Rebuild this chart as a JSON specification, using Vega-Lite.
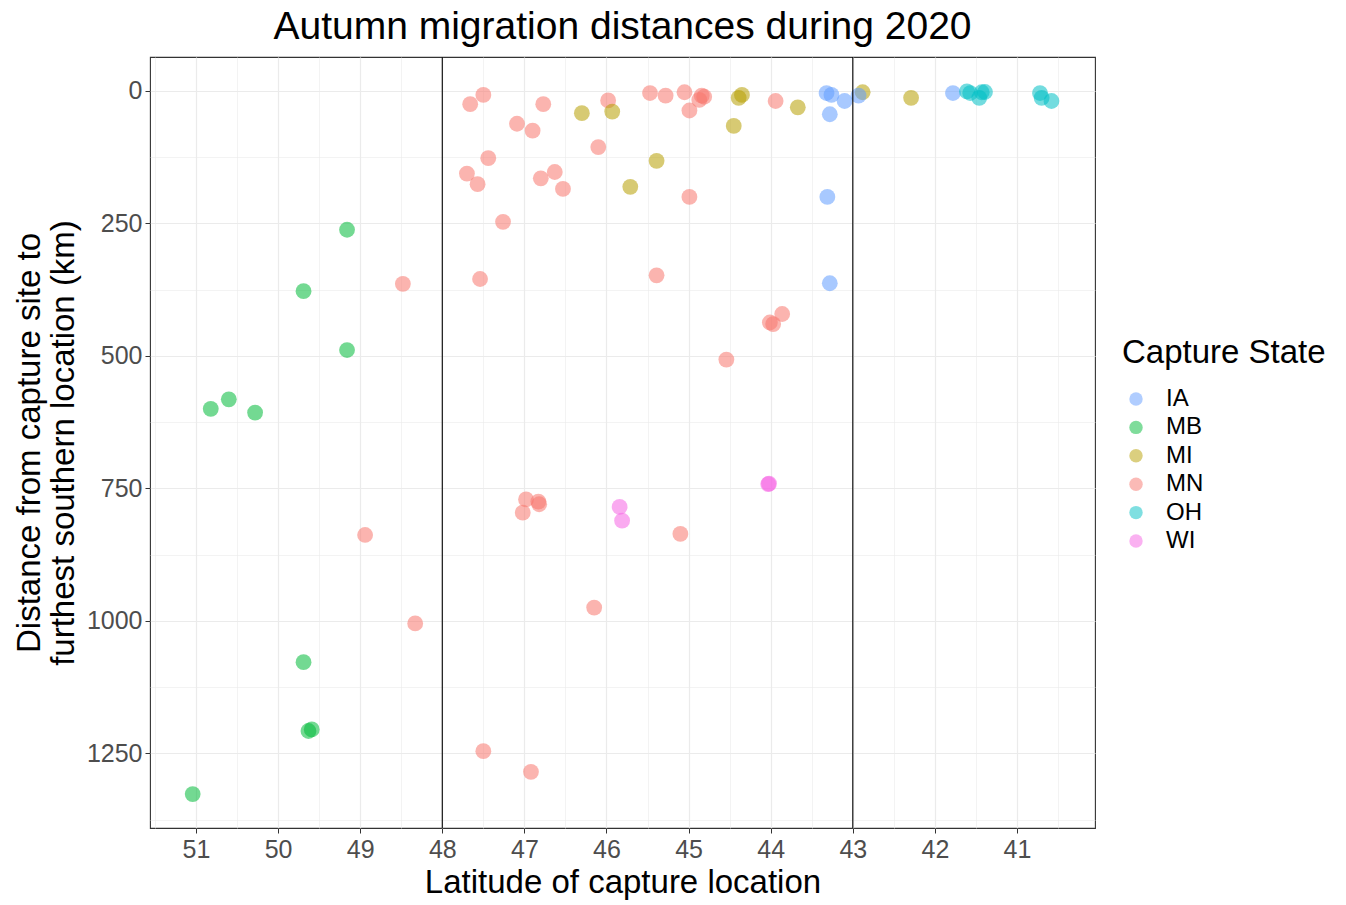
{
  "$schema": "https://vega.github.io/schema/vega-lite/v6.json",
  "width": 945,
  "height": 771,
  "autosize": {"type": "none"},
  "padding": {"left": 150, "top": 57, "right": 251, "bottom": 77},
  "background": "white",
  "title": {
    "text": "Autumn migration distances during 2020",
    "font": "Liberation Sans",
    "fontSize": 39,
    "fontWeight": "normal",
    "color": "black",
    "anchor": "middle",
    "frame": "group",
    "baseline": "alphabetic",
    "offset": 16,
    "dy": 38
  },
  "config": {
    "view": {"stroke": "#333333", "strokeWidth": 1.1},
    "font": "Liberation Sans",
    "axis": {
      "domain": false,
      "labelFont": "Liberation Sans",
      "titleFont": "Liberation Sans",
      "labelColor": "#4D4D4D",
      "labelFontSize": 25,
      "titleFontSize": 33,
      "titleFontWeight": "normal",
      "titleColor": "black",
      "tickColor": "#333333",
      "tickSize": 5,
      "gridColor": "#EBEBEB"
    },
    "legend": {
      "labelFont": "Liberation Sans",
      "titleFont": "Liberation Sans"
    }
  },
  "datasets": {
    "points": [
      {"lat": 47.66, "dist": 25, "state": "MN"},
      {"lat": 47.50, "dist": 7.6, "state": "MN"},
      {"lat": 46.77, "dist": 25, "state": "MN"},
      {"lat": 47.09, "dist": 62, "state": "MN"},
      {"lat": 46.90, "dist": 75, "state": "MN"},
      {"lat": 45.98, "dist": 18, "state": "MN"},
      {"lat": 45.47, "dist": 4, "state": "MN"},
      {"lat": 45.28, "dist": 9, "state": "MN"},
      {"lat": 45.05, "dist": 2.5, "state": "MN"},
      {"lat": 44.84, "dist": 9, "state": "MN"},
      {"lat": 44.87, "dist": 17, "state": "MN"},
      {"lat": 44.81, "dist": 11, "state": "MN"},
      {"lat": 44.99, "dist": 37, "state": "MN"},
      {"lat": 43.94, "dist": 19, "state": "MN"},
      {"lat": 46.10, "dist": 106, "state": "MN"},
      {"lat": 47.44, "dist": 127, "state": "MN"},
      {"lat": 47.70, "dist": 156, "state": "MN"},
      {"lat": 47.57, "dist": 176, "state": "MN"},
      {"lat": 46.80, "dist": 165, "state": "MN"},
      {"lat": 46.63, "dist": 153, "state": "MN"},
      {"lat": 46.53, "dist": 185, "state": "MN"},
      {"lat": 44.99, "dist": 200, "state": "MN"},
      {"lat": 47.26, "dist": 247, "state": "MN"},
      {"lat": 47.54, "dist": 355, "state": "MN"},
      {"lat": 45.39, "dist": 348, "state": "MN"},
      {"lat": 48.48, "dist": 364, "state": "MN"},
      {"lat": 43.86, "dist": 421, "state": "MN"},
      {"lat": 44.01, "dist": 437, "state": "MN"},
      {"lat": 43.97, "dist": 440, "state": "MN"},
      {"lat": 44.54, "dist": 507, "state": "MN"},
      {"lat": 46.98, "dist": 771, "state": "MN"},
      {"lat": 46.83, "dist": 775, "state": "MN"},
      {"lat": 46.82, "dist": 780, "state": "MN"},
      {"lat": 47.02, "dist": 796, "state": "MN"},
      {"lat": 45.10, "dist": 836, "state": "MN"},
      {"lat": 48.94, "dist": 838, "state": "MN"},
      {"lat": 46.15, "dist": 975, "state": "MN"},
      {"lat": 48.33, "dist": 1005, "state": "MN"},
      {"lat": 47.50, "dist": 1246, "state": "MN"},
      {"lat": 46.92, "dist": 1285, "state": "MN"},
      {"lat": 46.30, "dist": 42, "state": "MI"},
      {"lat": 45.93, "dist": 39, "state": "MI"},
      {"lat": 44.39, "dist": 13, "state": "MI"},
      {"lat": 44.35, "dist": 7.5, "state": "MI"},
      {"lat": 43.67, "dist": 31, "state": "MI"},
      {"lat": 44.45, "dist": 66, "state": "MI"},
      {"lat": 45.39, "dist": 132, "state": "MI"},
      {"lat": 45.71, "dist": 181, "state": "MI"},
      {"lat": 42.88, "dist": 2.5, "state": "MI"},
      {"lat": 42.29, "dist": 13, "state": "MI"},
      {"lat": 43.32, "dist": 4, "state": "IA"},
      {"lat": 43.26, "dist": 7.5, "state": "IA"},
      {"lat": 43.10, "dist": 19, "state": "IA"},
      {"lat": 43.28, "dist": 44, "state": "IA"},
      {"lat": 43.31, "dist": 200, "state": "IA"},
      {"lat": 43.28, "dist": 363, "state": "IA"},
      {"lat": 42.93, "dist": 9, "state": "IA"},
      {"lat": 41.78, "dist": 4, "state": "IA"},
      {"lat": 41.61, "dist": 1, "state": "OH"},
      {"lat": 41.57, "dist": 4, "state": "OH"},
      {"lat": 41.46, "dist": 13, "state": "OH"},
      {"lat": 41.43, "dist": 2.5, "state": "OH"},
      {"lat": 41.39, "dist": 2, "state": "OH"},
      {"lat": 40.72, "dist": 4, "state": "OH"},
      {"lat": 40.70, "dist": 13, "state": "OH"},
      {"lat": 40.58, "dist": 19, "state": "OH"},
      {"lat": 49.16, "dist": 262, "state": "MB"},
      {"lat": 49.69, "dist": 378, "state": "MB"},
      {"lat": 49.16, "dist": 489, "state": "MB"},
      {"lat": 50.82, "dist": 600, "state": "MB"},
      {"lat": 50.60, "dist": 582, "state": "MB"},
      {"lat": 50.28, "dist": 607, "state": "MB"},
      {"lat": 49.69, "dist": 1078, "state": "MB"},
      {"lat": 49.63, "dist": 1208, "state": "MB"},
      {"lat": 49.59, "dist": 1205, "state": "MB"},
      {"lat": 51.04, "dist": 1327, "state": "MB"},
      {"lat": 44.02, "dist": 741, "state": "WI"},
      {"lat": 44.03, "dist": 742, "state": "WI"},
      {"lat": 45.84, "dist": 785, "state": "WI"},
      {"lat": 45.81, "dist": 811, "state": "WI"}
    ],
    "lines": [{"lat": 48}, {"lat": 43}]
  },
  "layer": [
    {
      "data": {"name": "points"},
      "mark": {"type": "circle", "opacity": 0.55, "size": 250},
      "encoding": {
        "x": {
          "field": "lat",
          "type": "quantitative",
          "title": "Latitude of capture location",
          "scale": {"domain": [40.05, 51.56], "reverse": true, "nice": false, "zero": false},
          "axis": {
            "values": [40.5, 41, 41.5, 42, 42.5, 43, 43.5, 44, 44.5, 45, 45.5, 46, 46.5, 47, 47.5, 48, 48.5, 49, 49.5, 50, 50.5, 51, 51.5],
            "labelExpr": "datum.value % 1 === 0 ? format(datum.value, 'd') : ''",
            "tickOpacity": {"condition": {"test": "datum.value % 1 !== 0", "value": 0}, "value": 1},
            "gridWidth": {"condition": {"test": "datum.value % 1 !== 0", "value": 0.6}, "value": 1.2},
            "labelPadding": 4,
            "titlePadding": 4
          }
        },
        "y": {
          "field": "dist",
          "type": "quantitative",
          "title": ["Distance from capture site to", "furthest southern location (km)"],
          "scale": {"domain": [-64, 1391], "reverse": true, "nice": false, "zero": false},
          "axis": {
            "values": [0, 125, 250, 375, 500, 625, 750, 875, 1000, 1125, 1250, 1375],
            "labelExpr": "datum.value % 250 === 0 ? format(datum.value, 'd') : ''",
            "tickOpacity": {"condition": {"test": "datum.value % 250 !== 0", "value": 0}, "value": 1},
            "gridWidth": {"condition": {"test": "datum.value % 250 !== 0", "value": 0.6}, "value": 1.2},
            "labelPadding": 3,
            "titlePadding": 6,
            "titleLineHeight": 34
          }
        },
        "color": {
          "field": "state",
          "type": "nominal",
          "title": "Capture State",
          "scale": {
            "domain": ["IA", "MB", "MI", "MN", "OH", "WI"],
            "range": ["#619CFF", "#00BA38", "#B79F00", "#F8766D", "#00BFC4", "#F564E3"]
          },
          "legend": {
            "orient": "none",
            "legendX": 972,
            "legendY": 280,
            "titleFontSize": 33,
            "titleFontWeight": "normal",
            "titleColor": "black",
            "titleLimit": 400,
            "titlePadding": 17,
            "labelFontSize": 24,
            "labelColor": "black",
            "labelLimit": 200,
            "symbolType": "circle",
            "symbolSize": 180,
            "symbolOpacity": 0.5,
            "symbolStrokeWidth": 0,
            "symbolOffset": 2,
            "labelOffset": 18,
            "rowPadding": 4.4
          }
        }
      }
    },
    {
      "data": {"name": "lines"},
      "mark": {"type": "rule", "color": "black", "strokeWidth": 1.1},
      "encoding": {
        "x": {"field": "lat", "type": "quantitative"}
      }
    }
  ]
}
